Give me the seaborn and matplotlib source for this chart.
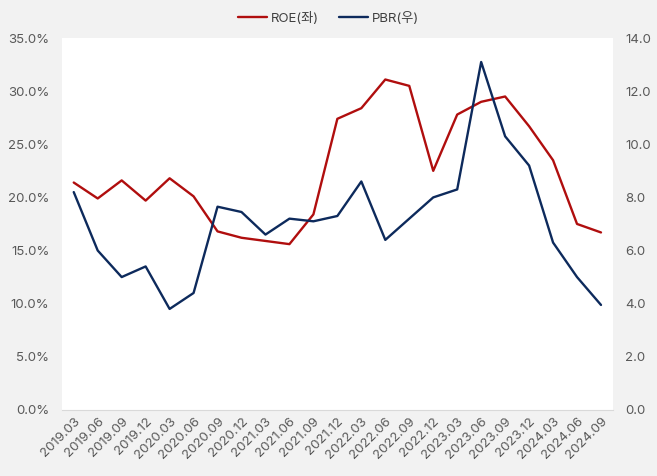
import numpy as np
import seaborn as sns
import matplotlib.pyplot as plt

quarters = ['2019.03', '2019.06', '2019.09', '2019.12', '2020.03', '2020.06', '2020.09', '2020.12',
            '2021.03', '2021.06', '2021.09', '2021.12', '2022.03', '2022.06', '2022.09', '2022.12',
            '2023.03', '2023.06', '2023.09', '2023.12', '2024.03', '2024.06', '2024.09']
roe = [21.4, 19.9, 21.6, 19.7, 21.8, 20.1, 16.8, 16.2, 15.9, 15.6, 18.4, 27.4,
       28.4, 31.1, 30.5, 22.5, 27.8, 29.0, 29.5, 26.7, 23.5, 17.5, 16.7]
pbr = [8.2, 6.0, 5.0, 5.4, 3.8, 4.4, 7.65, 7.45, 6.6, 7.2, 7.1, 7.3,
       8.6, 6.4, 7.2, 8.0, 8.3, 13.1, 10.3, 9.2, 6.3, 5.0, 3.95]

sns.set_style('white')
plt.rcParams['font.family'] = ['Inter', 'Noto Sans CJK KR', 'DejaVu Sans']

fig = plt.figure(figsize=(6.57, 4.76), dpi=100, facecolor='#f2f2f2')
ax = fig.add_axes([0.094, 0.139, 0.839, 0.781])
ax.set_facecolor('white')
x = np.arange(len(quarters))

sns.lineplot(x=x, y=roe, ax=ax, color='#b00e0e', linewidth=1.7, label='ROE(좌)', legend=False)
ax2 = ax.twinx()
sns.lineplot(x=x, y=pbr, ax=ax2, color='#0d2a5c', linewidth=1.7, label='PBR(우)', legend=False)

ax.set_xlim(-0.5, len(quarters) - 0.5)
ax.set_ylim(0, 35)
ax2.set_ylim(0, 14)
ax.set_yticks(np.arange(0, 36, 5))
ax.set_yticklabels([f'{v:.1f}%' for v in np.arange(0, 36, 5)])
ax2.set_yticks(np.arange(0, 15, 2))
ax2.set_yticklabels([f'{v:.1f}' for v in np.arange(0, 15, 2)])
ax.set_xticks(x)
ax.set_xticklabels(quarters, rotation=45, ha='right', rotation_mode='anchor')

for a in (ax, ax2):
    for s in a.spines.values():
        s.set_visible(False)
    a.tick_params(length=0, labelsize=9.5, colors='#595959')
ax.spines['bottom'].set_visible(True)
ax.spines['bottom'].set_color('#d9d9d9')
ax.tick_params(axis='y', pad=9)
ax2.tick_params(axis='y', pad=9)
ax.tick_params(axis='x', pad=4)

h1, l1 = ax.get_legend_handles_labels()
h2, l2 = ax2.get_legend_handles_labels()
fig.legend(h1 + h2, l1 + l2, loc='center', bbox_to_anchor=(0.5, 0.962), ncol=2, frameon=False,
           fontsize=9.5, handlelength=2.2, handletextpad=0.3, columnspacing=1.5, labelcolor='#404040')

fig.savefig('out.png', dpi=100, facecolor=fig.get_facecolor())
